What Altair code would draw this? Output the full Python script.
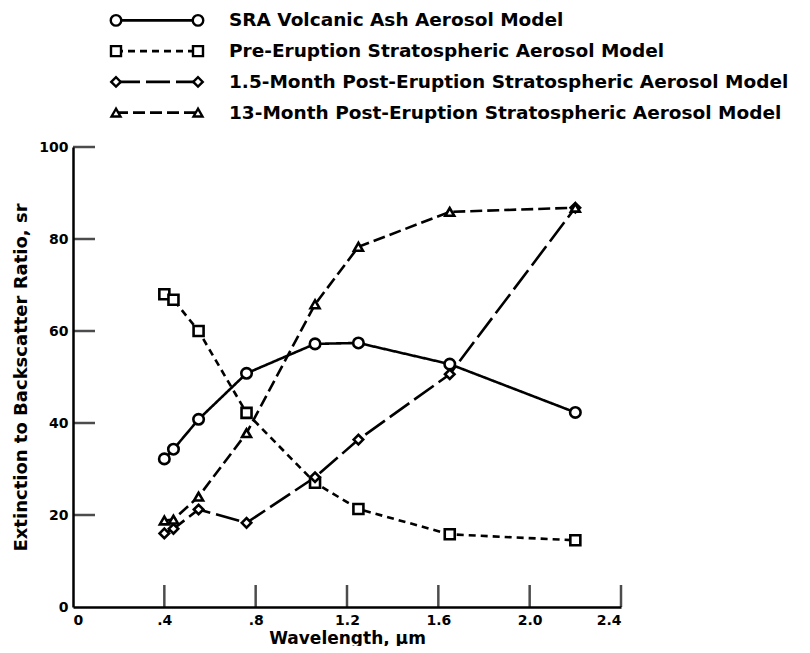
import altair as alt
import pandas as pd

wavelength = [0.40, 0.44, 0.55, 0.76, 1.06, 1.25, 1.65, 2.20]
sra_ash = [32.2, 34.3, 40.8, 50.8, 57.2, 57.4, 52.8, 42.3]
pre_eruption = [68.0, 66.8, 60.0, 42.2, 27.0, 21.3, 15.8, 14.5]
post_1_5 = [16.0, 17.0, 21.2, 18.3, 28.2, 36.4, 50.6, 86.8]
post_13 = [18.8, 19.0, 24.0, 37.8, 65.8, 78.3, 85.9, 86.8]

series_names = [
    "SRA Volcanic Ash Aerosol Model",
    "Pre-Eruption Stratospheric Aerosol Model",
    "1.5-Month Post-Eruption Stratospheric Aerosol Model",
    "13-Month Post-Eruption Stratospheric Aerosol Model",
]
series_shapes = ["circle", "square", "diamond", "triangle-up"]
series_sizes = [110, 80, 150, 110]
series_dashes = [[1, 0], [7, 5], [24, 6], [12, 5]]

x_ticks = [0.4, 0.8, 1.2, 1.6, 2.0, 2.4]
x_labels = ["0", ".4", ".8", "1.2", "1.6", "2.0", "2.4"]
y_ticks = [20, 40, 60, 80, 100]
y_labels = [0, 20, 40, 60, 80, 100]

FONT = "DejaVu Sans"

rows = []
for name, vals in zip(series_names, [sra_ash, pre_eruption, post_1_5, post_13]):
    for w, v in zip(wavelength, vals):
        rows.append({"series": name, "wl": w, "val": v})
df = pd.DataFrame(rows)

shape_scale = alt.Scale(domain=series_names, range=series_shapes)
size_scale = alt.Scale(domain=series_names, range=series_sizes)
dash_scale = alt.Scale(domain=series_names, range=series_dashes)

xs = alt.Scale(domain=[0, 2.4], nice=False, zero=False)
ys = alt.Scale(domain=[0, 100], nice=False)

x_vals = [0.0] + x_ticks
label_expr = "datum.value < 0.01 ? '0' : " + " : ".join(
    [f"abs(datum.value - {v}) < 0.01 ? '{l}'" for v, l in zip(x_vals[1:], x_labels[1:])]
) + " : ''"

x_axis = alt.Axis(values=x_vals, labelExpr=label_expr, ticks=False, grid=False,
                  title="Wavelength, μm", labelFont=FONT, labelFontWeight="bold",
                  labelFontSize=14, titleFont=FONT, titleFontWeight="bold",
                  titleFontSize=17, labelPadding=6, titlePadding=3,
                  domainColor="black", domainWidth=2.5, labelColor="black",
                  titleColor="black")
y_axis = alt.Axis(values=y_labels, ticks=False, grid=False,
                  title="Extinction to Backscatter Ratio, sr", labelFont=FONT,
                  labelFontWeight="bold", labelFontSize=14, titleFont=FONT,
                  titleFontWeight="bold", titleFontSize=18, labelPadding=5,
                  titlePadding=8, domainColor="black", domainWidth=2.5,
                  labelColor="black", titleColor="black")

base = alt.Chart(df)
lines = base.mark_line(color="black", strokeWidth=2.6).encode(
    x=alt.X("wl:Q", scale=xs, axis=x_axis),
    y=alt.Y("val:Q", scale=ys, axis=y_axis),
    detail="series:N",
    strokeDash=alt.StrokeDash("series:N", scale=dash_scale, legend=None),
)
points = base.mark_point(filled=True, fill="white", stroke="black", strokeWidth=2.6,
                         opacity=1).encode(
    x=alt.X("wl:Q", scale=xs),
    y=alt.Y("val:Q", scale=ys),
    shape=alt.Shape("series:N", scale=shape_scale, legend=None),
    size=alt.Size("series:N", scale=size_scale, legend=None),
)

ytick_df = pd.DataFrame({"x": [0.0] * len(y_ticks), "y": y_ticks})
xtick_df = pd.DataFrame({"x": x_ticks, "y": [0.0] * len(x_ticks)})
yt = alt.Chart(ytick_df).mark_tick(orient="horizontal", size=22, thickness=2.5,
                                   color="black", xOffset=11).encode(
    x=alt.X("x:Q", scale=xs), y=alt.Y("y:Q", scale=ys))
xt = alt.Chart(xtick_df).mark_tick(orient="vertical", size=22, thickness=2.5,
                                   color="black", yOffset=-11).encode(
    x=alt.X("x:Q", scale=xs), y=alt.Y("y:Q", scale=ys))

main = alt.layer(lines, points, yt, xt).properties(width=548, height=460)

leg_df = pd.DataFrame({"series": series_names})
leg_y = alt.Y("series:N", sort=series_names, axis=None,
              scale=alt.Scale(paddingInner=0, paddingOuter=0))
leg_line = alt.Chart(leg_df).mark_rule(color="black", strokeWidth=2.6, yOffset=-3).encode(
    x=alt.value(43), x2=alt.value(125), y=leg_y,
    strokeDash=alt.StrokeDash("series:N", scale=dash_scale, legend=None))
leg_p1 = alt.Chart(leg_df).mark_point(filled=True, fill="white", stroke="black",
                                      strokeWidth=2.4, opacity=1, yOffset=-3).encode(
    x=alt.value(43), y=leg_y,
    shape=alt.Shape("series:N", scale=shape_scale, legend=None),
    size=alt.Size("series:N", scale=size_scale, legend=None))
leg_p2 = alt.Chart(leg_df).mark_point(filled=True, fill="white", stroke="black",
                                      strokeWidth=2.4, opacity=1, yOffset=-3).encode(
    x=alt.value(125), y=leg_y,
    shape=alt.Shape("series:N", scale=shape_scale, legend=None),
    size=alt.Size("series:N", scale=size_scale, legend=None))
leg_text = alt.Chart(leg_df).mark_text(align="left", baseline="middle", font=FONT,
                                       fontSize=18.5, fontWeight="bold", yOffset=-3,
                                       color="black").encode(
    x=alt.value(156), y=leg_y, text="series:N")
legend = alt.layer(leg_line, leg_p1, leg_p2, leg_text).properties(width=548, height=123)

chart = alt.vconcat(legend, main, spacing=9).configure(
    padding={"left": 4, "top": 0, "right": 0, "bottom": 0}).configure_view(stroke=None)

chart.save("out.html", embed_options={"renderer": "svg", "actions": False})
